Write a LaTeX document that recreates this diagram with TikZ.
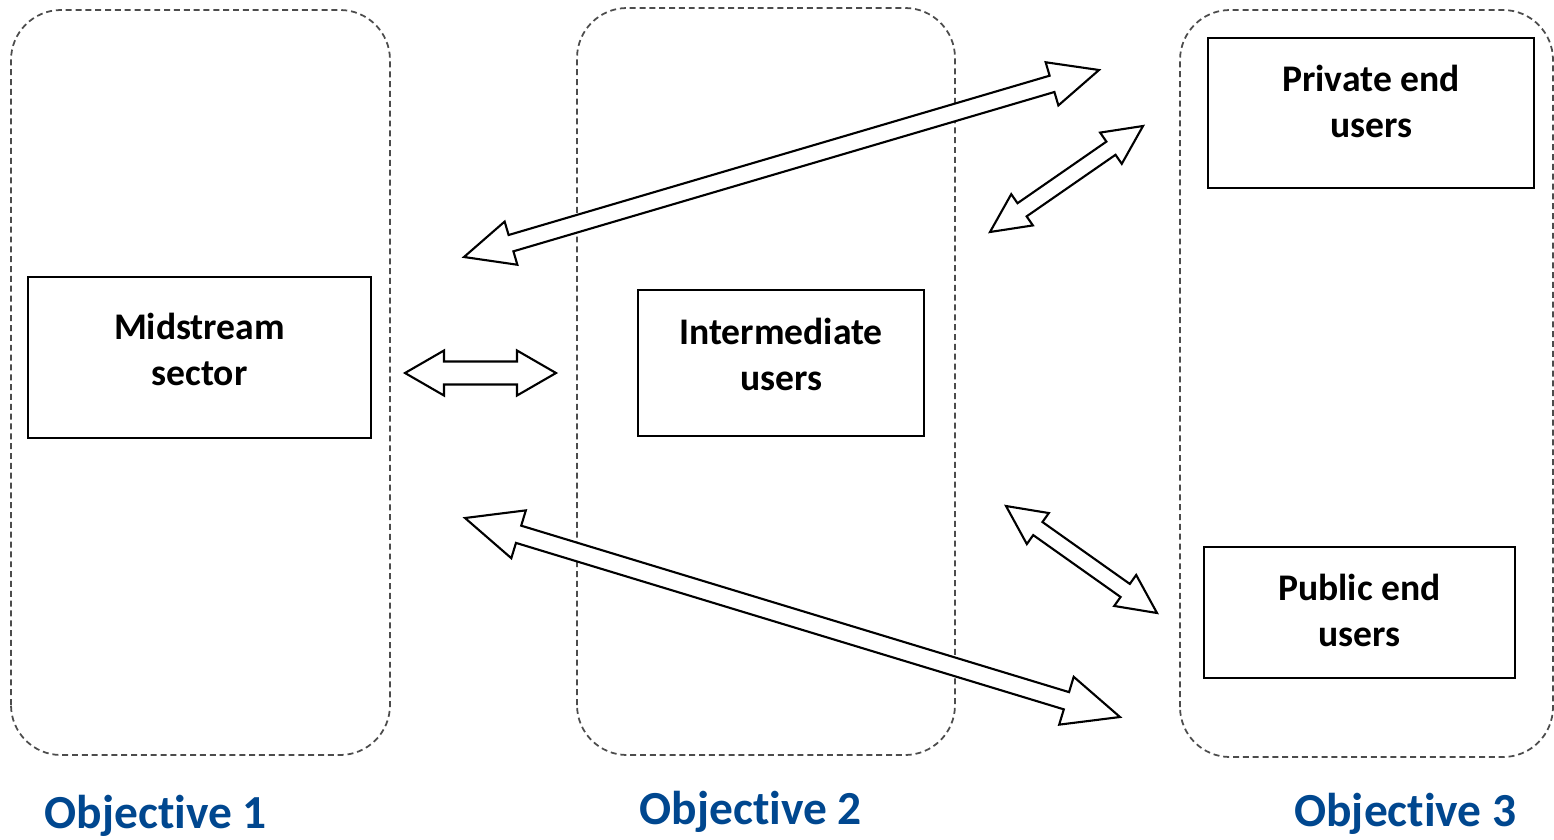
\documentclass[tikz,border=0pt]{standalone}
\usepackage{fontspec}
\setmainfont{Carlito}[Ligatures=NoCommon]
\usetikzlibrary{calc}

\definecolor{objblue}{RGB}{0,71,143}

\tikzset{
	objbox/.style={draw=black!70, dash pattern=on 1.7pt off 1.1pt, line width=0.5pt, rounded corners=0.5cm},
	sectorbox/.style={draw, line width=0.6pt, align=center, inner sep=0pt, font=\fontsize{10.7}{13.1}\selectfont\bfseries},
	objective/.style={text=objblue, inner sep=0pt, anchor=base, font=\fontsize{13.5}{16}\selectfont\bfseries},
	blockarrow/.style={draw, fill=white, line width=0.6pt, line join=miter}
}

% two-headed block arrow: tip, tip, half shaft, half head, head length
\newcommand{\twowayarrow}[5]{%
	\draw[blockarrow] (#1)
		-- ($(#1)!#5!(#2)!#4!90:(#2)$) -- ($(#1)!#5!(#2)!#3!90:(#2)$)
		-- ($(#2)!#5!(#1)!#3!-90:(#1)$) -- ($(#2)!#5!(#1)!#4!-90:(#1)$)
		-- (#2)
		-- ($(#2)!#5!(#1)!#4!90:(#1)$) -- ($(#2)!#5!(#1)!#3!90:(#1)$)
		-- ($(#1)!#5!(#2)!#3!-90:(#2)$) -- ($(#1)!#5!(#2)!#4!-90:(#2)$)
		-- cycle;}

\begin{document}
\begin{tikzpicture}
	\useasboundingbox (0,0) rectangle (15.54,8.39);

	% objective areas
	\draw[objbox] (0.11,0.84) rectangle (3.90,8.29);
	\draw[objbox] (5.77,0.84) rectangle (9.55,8.31);
	\draw[objbox] (11.80,0.82) rectangle (15.53,8.29);

	% sectors
	\node[sectorbox, minimum width=3.43cm, minimum height=1.61cm, text depth=0.17cm] (mid) at (1.995,4.815) {Midstream\\sector};
	\node[sectorbox, minimum width=2.86cm, minimum height=1.46cm, text depth=0.18cm] (inter) at (7.81,4.76) {Intermediate\\users};
	\node[sectorbox, minimum width=3.26cm, minimum height=1.50cm, text depth=0.24cm] (priv) at (13.71,7.26) {Private end\\users};
	\node[sectorbox, minimum width=3.11cm, minimum height=1.31cm, text depth=0.04cm] (pub) at (13.595,2.265) {Public end\\users};

	% arrow tips
	\coordinate (midE) at (4.05,4.66);
	\coordinate (interW) at (5.56,4.66);
	\coordinate (midNE) at (4.64,5.82);
	\coordinate (privW) at (10.99,7.69);
	\coordinate (interNE) at (9.90,6.07);
	\coordinate (privSW) at (11.43,7.13);
	\coordinate (interSE) at (10.06,3.33);
	\coordinate (pubNW) at (11.57,2.26);
	\coordinate (midSE) at (4.65,3.21);
	\coordinate (pubW) at (11.20,1.22);

	% arrows
	\twowayarrow{midE}{interW}{0.115cm}{0.225cm}{0.39cm}
	\twowayarrow{midNE}{privW}{0.085cm}{0.225cm}{0.49cm}
	\twowayarrow{interNE}{privSW}{0.08cm}{0.19cm}{0.39cm}
	\twowayarrow{interSE}{pubNW}{0.08cm}{0.19cm}{0.39cm}
	\twowayarrow{midSE}{pubW}{0.09cm}{0.25cm}{0.56cm}

	% objectives
	\foreach \x/\y/\n in {1.56/0.11/1, 7.51/0.15/2, 14.055/0.13/3}
		\node[objective] (obj\n) at (\x,\y) {Objective \n};
\end{tikzpicture}
\end{document}
